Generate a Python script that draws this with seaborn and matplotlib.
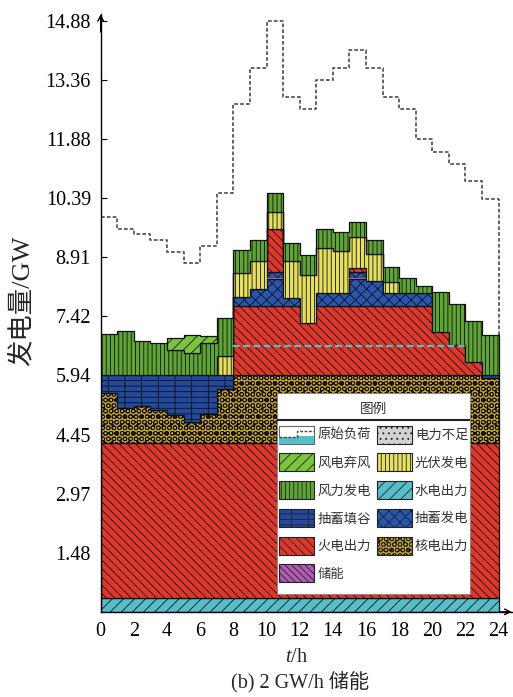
import numpy as np
import pandas as pd
import matplotlib
matplotlib.use("Agg")
import matplotlib.pyplot as plt
import seaborn as sns
from matplotlib.patches import Patch, Rectangle, Polygon
from matplotlib.lines import Line2D
from matplotlib.legend_handler import HandlerBase

# ---------------- data (GW, hourly, 0-24 h) ----------------
hours = list(range(25))
load = [9.95, 9.65, 9.51, 9.36, 9.07, 8.77, 9.21, 10.55, 12.78, 13.70, 14.88, 12.95,
        12.65, 13.39, 13.70, 14.14, 13.70, 12.95, 12.65, 11.90, 11.58, 11.28, 10.84, 10.39]

hydro = [0.34] * 24
thermal_base = [3.90] * 24
nuclear = [1.26, 0.90, 0.95, 0.84, 0.71, 0.55, 0.73, 1.36, 1.71, 1.71, 1.71, 1.71,
           1.71, 1.71, 1.71, 1.71, 1.71, 1.71, 1.71, 1.71, 1.71, 1.71, 1.71, 1.64]
pump_fill = [0.45, 0.81, 0.76, 0.87, 1.00, 1.16, 0.98, 0.35, 0, 0, 0, 0,
             0, 0, 0, 0, 0, 0, 0, 0, 0, 0, 0, 0.07]
thermal_peak = [0, 0, 0, 0, 0, 0, 0, 0, 1.76, 1.76, 1.76, 1.76,
                1.31, 1.76, 1.76, 1.76, 1.76, 1.76, 1.76, 1.76, 1.10, 0.77, 0.35, 0]
pumped_gen_a = [0, 0, 0, 0, 0, 0, 0, 0, 0.21, 0.42, 0.66, 0.20,
                0, 0.31, 0.31, 0.66, 0.63, 0.31, 0.31, 0.31, 0, 0, 0, 0]
storage = [0, 0, 0, 0, 0, 0, 0, 0, 0, 0, 0.04, 0,
           0, 0, 0, 0.04, 0, 0, 0, 0, 0, 0, 0, 0]
pumped_gen_b = [0, 0, 0, 0, 0, 0, 0, 0, 0, 0, 0.15, 0,
                0, 0, 0, 0.15, 0, 0, 0, 0, 0, 0, 0, 0]
thermal_top = [0, 0, 0, 0, 0, 0, 0, 0, 0, 0, 1.09, 0,
               0, 0, 0, 0.09, 0, 0, 0, 0, 0, 0, 0, 0]
pv = [0, 0, 0, 0, 0, 0, 0, 0.50, 0.62, 0.71, 0.42, 0.92,
      1.22, 1.13, 1.07, 0.79, 0.67, 0.29, 0, 0, 0, 0, 0, 0]
wind = [1.04, 1.12, 0.88, 0.83, 0.64, 0.56, 0.81, 0.95, 0.57, 0.52, 0.48, 0.46,
        0.50, 0.49, 0.48, 0.37, 0.35, 0.38, 0.38, 0.19, 0.99, 1.02, 1.02, 1.02]
curtail = [0, 0, 0, 0, 0.31, 0.47, 0.18, 0, 0, 0, 0, 0,
           0, 0, 0, 0, 0, 0, 0, 0, 0, 0, 0, 0]

hydro_line_level = 6.70
hydro_line_span = (8, 22)

ytick_vals = [1.488, 2.976, 4.464, 5.952, 7.440, 8.928, 10.416, 11.904, 13.392, 14.880]
ytick_labels = ["1.48", "2.97", "4.45", "5.94", "7.42", "8.91", "10.39", "11.88", "13.36", "14.88"]
xtick_vals = list(range(25))
xtick_labels = [str(h) if h % 2 == 0 else "" for h in xtick_vals]

# ---------------- styles ----------------
C_HYDRO = "#55BEC8"
C_THERM = "#E0372B"
C_NUC = "#CBA527"
C_FILL = "#23499E"
C_PGEN = "#2856B0"
C_STOR = "#B05CB4"
C_PV = "#E6E060"
C_WIND = "#5FA536"
C_CURT = "#7AC53E"
C_SHORT = "#D2D2D2"

styles = {
    "hydro": dict(fc=C_HYDRO, hatch="///"),
    "thermal": dict(fc=C_THERM, hatch="\\\\\\\\"),
    "nuclear": dict(fc=C_NUC, hatch="OOO.."),
    "fill": dict(fc=C_FILL, hatch="---|"),
    "pgen": dict(fc=C_PGEN, hatch="xxx"),
    "storage": dict(fc=C_STOR, hatch="\\\\\\\\\\"),
    "pv": dict(fc=C_PV, hatch="||||"),
    "wind": dict(fc=C_WIND, hatch="||||"),
    "curtail": dict(fc=C_CURT, hatch="///"),
    "short": dict(fc=C_SHORT, hatch="..."),
}

stack = [
    ("hydro", hydro), ("thermal", thermal_base), ("nuclear", nuclear),
    ("fill", pump_fill), ("thermal", thermal_peak), ("pgen", pumped_gen_a),
    ("storage", storage), ("pgen", pumped_gen_b), ("thermal", thermal_top),
    ("pv", pv), ("wind", wind), ("curtail", curtail),
]

# ---------------- figure ----------------
sns.set_style("ticks")
plt.rcParams["font.family"] = ["Liberation Serif", "Noto Sans CJK SC"]
plt.rcParams["mathtext.fontset"] = "custom"
plt.rcParams["mathtext.it"] = "Liberation Serif:italic"
plt.rcParams["mathtext.rm"] = "Liberation Serif"
plt.rcParams["hatch.linewidth"] = 0.6

fig = plt.figure(figsize=(5.13, 6.97), dpi=100)
ax = fig.add_axes([0.1963, 0.1222, 0.8012, 0.8577])
XMAX, YMAX = 24.79, 15.05
ax.set_xlim(0, XMAX)
ax.set_ylim(0, YMAX)

edges = np.array(hours, dtype=float)


def ext(a):
    a = np.asarray(a, dtype=float)
    return np.append(a, a[-1])


def runs(th):
    i, n = 0, len(th)
    while i < n:
        if th[i] > 0:
            j = i
            while j < n and th[j] > 0:
                j += 1
            yield i, j
            i = j
        else:
            i += 1


# original load: dashed step line with a drop at the end of the day
load_df = pd.DataFrame({"t": edges, "load": ext(load)})
sns.lineplot(data=load_df, x="t", y="load", drawstyle="steps-post", color="#4a4a4a",
             linewidth=1.2, linestyle=(0, (2.2, 1.3)), ax=ax, zorder=1)

base = np.zeros(24)
for key, vals in stack:
    th = np.asarray(vals, dtype=float)
    st = styles[key]
    for i, j in runs(th):
        x = edges[i:j + 1]
        lo = ext(base[i:j])
        hi = ext(base[i:j] + th[i:j])
        if key == "storage":
            ax.fill_between(x, lo, hi, step="post", facecolor=st["fc"], edgecolor="none",
                            linewidth=0, zorder=3)
        else:
            ax.fill_between(x, lo, hi, step="post", facecolor=st["fc"], edgecolor="#111111",
                            hatch=st["hatch"], linewidth=0.9, zorder=2)
    base = base + th

top_total = base
ax.vlines(24, top_total[-1], load[-1], colors="#4a4a4a", linewidth=1.2,
          linestyles=[(0, (2.2, 1.3))], zorder=1)
ax.hlines(hydro_line_level, hydro_line_span[0], hydro_line_span[1], colors=C_HYDRO,
          linewidth=1.6, linestyles=[(0, (3, 1.6))], zorder=4)

# axes styling
for s in ("top", "right"):
    ax.spines[s].set_visible(False)
for s in ("left", "bottom"):
    ax.spines[s].set_linewidth(1.0)
    ax.spines[s].set_color("black")
    ax.spines[s].set_zorder(5)
ax.annotate("", xy=(0, 1.0), xytext=(0, 0.97), xycoords="axes fraction",
            arrowprops=dict(arrowstyle="->", lw=1.0, color="black", shrinkA=0, shrinkB=0))
ax.annotate("", xy=(1.0, 0), xytext=(0.97, 0), xycoords="axes fraction",
            arrowprops=dict(arrowstyle="->", lw=1.0, color="black", shrinkA=0, shrinkB=0))

ax.set_yticks(ytick_vals)
ax.set_yticklabels(ytick_labels)
ax.set_xticks(xtick_vals)
ax.set_xticklabels(xtick_labels)
ax.tick_params(axis="both", direction="in", length=4, width=0.8, labelsize=14.5,
               colors="black", pad=7)
ax.set_xlabel("")
ax.set_ylabel("")
ax.grid(False)

fig.text(0.0423, 0.568, "发电量/GW", rotation=90, ha="center", va="center", fontsize=19)
fig.text(0.579, 0.056, "$t$/h", ha="center", va="center", fontsize=14.5)
fig.text(0.585, 0.020, "(b) 2 GW/h 储能", ha="center", va="center", fontsize=14.5)


# ---------------- legend ----------------
class LoadHandler(HandlerBase):
    def create_artists(self, legend, orig_handle, xdescent, ydescent, width, height,
                       fontsize, trans):
        x0, y0 = -xdescent, -ydescent
        w, h = width, height
        box = Rectangle((x0, y0), w, h, facecolor="white", edgecolor="#666666",
                        linewidth=0.8, transform=trans)
        area = Polygon([(x0, y0), (x0, y0 + 0.35 * h), (x0 + 0.5 * w, y0 + 0.35 * h),
                        (x0 + 0.5 * w, y0 + 0.45 * h), (x0 + w, y0 + 0.45 * h), (x0 + w, y0)],
                       closed=True, facecolor=C_HYDRO, edgecolor="none", transform=trans)
        line = Line2D([x0, x0 + 0.5 * w, x0 + 0.5 * w, x0 + w],
                      [y0 + 0.35 * h, y0 + 0.35 * h, y0 + 0.7 * h, y0 + 0.7 * h],
                      color="#444444", linewidth=1.0, linestyle=(0, (2, 1.2)), transform=trans)
        return [box, area, line]


class LoadKey:
    pass


def key_patch(key):
    st = styles[key]
    return Patch(facecolor=st["fc"], edgecolor="#222222", hatch=st["hatch"], linewidth=0.8)


handles = [LoadKey(), key_patch("curtail"), key_patch("wind"), key_patch("fill"),
           key_patch("thermal"), key_patch("storage"),
           key_patch("short"), key_patch("pv"), key_patch("hydro"), key_patch("pgen"),
           key_patch("nuclear")]
labels = ["原始负荷", "风电弃风", "风力发电", "抽蓄填谷", "火电出力", "储能",
          "电力不足", "光伏发电", "水电出力", "抽蓄发电", "核电出力"]

# legend box geometry (axes fraction)
box_x0, box_x1 = 0.4290, 0.8985
box_y0, box_y1 = 0.0298, 0.3660
sep_y = 0.3208

frame = Rectangle((box_x0, box_y0), box_x1 - box_x0, box_y1 - box_y0, transform=ax.transAxes,
                  facecolor="white", edgecolor="#8a8a8a", linewidth=0.8, zorder=5.8)
ax.add_patch(frame)
ax.plot([box_x0, box_x1], [sep_y, sep_y], transform=ax.transAxes, color="#222222",
        linewidth=1.5, zorder=6.5, solid_capstyle="butt")

leg = ax.legend(handles, labels, handler_map={LoadKey: LoadHandler()}, ncol=2,
                loc="upper left", bbox_to_anchor=(box_x0, 0.3544), bbox_transform=ax.transAxes,
                borderaxespad=0, frameon=False,
                title="图例", prop={"family": ["Noto Sans CJK SC"], "size": 9.6},
                title_fontproperties={"family": ["Noto Sans CJK SC"], "size": 9.8},
                handlelength=2.63, handleheight=1.70, handletextpad=0.23,
                columnspacing=0.45, labelspacing=0.73, borderpad=0.15)
leg.set_zorder(6)
for t in leg.get_texts():
    t.set_color("#333333")
leg.get_title().set_color("#333333")

ax.set_xlim(0, XMAX)
ax.set_ylim(0, YMAX)
fig.savefig("out.png", dpi=100)
